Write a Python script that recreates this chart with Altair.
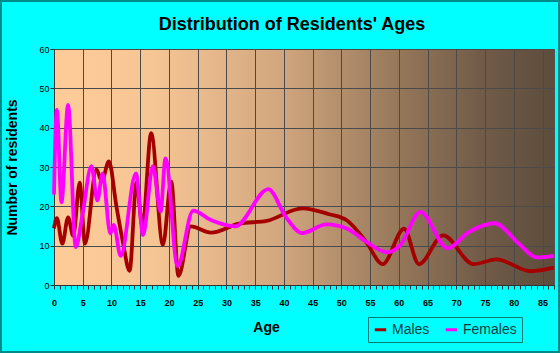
import altair as alt
import pandas as pd

# ---- data ----
male_ages = [0, 0.5, 1.45, 2.45, 3.35, 4.47, 5.4, 7.37, 8.3, 9.55, 10.86, 12.0, 13.15,
             14.35, 15.4, 16.9, 18.95, 20.4, 21.65, 23.8, 27.3, 32.2, 37.0, 43.2, 47.9,
             51.0, 54.3, 57.2, 60.9, 63.5, 67.7, 73.0, 77.0, 83.0, 87.0]
male_counts = [14.4, 17.0, 10.5, 17.2, 12.5, 26.0, 10.5, 29.4, 26.4, 31.4, 20.0, 10.8, 3.6,
               26.0, 14.8, 38.6, 10.2, 26.3, 2.3, 14.9, 13.3, 15.6, 16.3, 19.5, 18.0,
               16.4, 11.0, 5.3, 14.3, 5.3, 12.6, 5.3, 6.5, 3.5, 4.4]

female_ages = [0, 0.5, 1.3, 2.45, 3.78, 5.0, 6.5, 7.55, 8.45, 9.8, 10.4, 11.6, 14.25,
               15.5, 17.2, 18.55, 19.4, 21.5, 24.2, 27.3, 31.5, 37.3, 40.3, 43.2, 47.4,
               51.2, 54.3, 58.0, 60.3, 63.75, 68.5, 72.0, 76.7, 80.8, 84.0, 87.0]
female_counts = [23.0, 44.5, 21.0, 45.8, 9.6, 18.3, 30.2, 21.5, 28.3, 13.1, 15.3, 7.4, 28.4,
                 12.7, 30.2, 18.7, 32.2, 4.8, 18.9, 16.5, 14.9, 24.4, 17.4, 13.2, 15.4,
                 14.2, 11.0, 8.3, 10.2, 18.6, 9.3, 13.3, 15.7, 10.6, 7.0, 7.4]

series_names = ["Males", "Females"]
series_colors = ["#A50000", "#FF00FF"]
title_text = ["Distribution of Residents' Ages"]

df = pd.concat([
    pd.DataFrame({"age": male_ages, "count": male_counts, "sex": "Males"}),
    pd.DataFrame({"age": female_ages, "count": female_counts, "sex": "Females"}),
], ignore_index=True)

FONT = "Liberation Sans"
W, H = 500, 236

grad = ("{gradient: 'linear', x1: 0, y1: 0, x2: 1, y2: 0, stops: ["
        "{offset: 0, color: '#FDCC99'}, {offset: 0.2, color: '#F6C594'},"
        "{offset: 0.45, color: '#D2A77F'}, {offset: 0.7, color: '#937558'},"
        "{offset: 0.85, color: '#725C49'}, {offset: 1, color: '#5D4C3C'}]}")

lines = alt.Chart(df).mark_line(interpolate="monotone", strokeWidth=3.8).encode(
    x=alt.X("age:Q",
            scale=alt.Scale(domain=[0, 87], nice=False, zero=False),
            axis=alt.Axis(
                title="Age",
                values=list(range(0, 88)),
                labelExpr="datum.value % 5 === 0 ? datum.label : ''",
                gridOpacity={"condition": {"test": "datum.value % 5 === 0", "value": 1}, "value": 0},
                gridColor="#4A4A4A",
                tickColor="#333333", tickSize=4, domainColor="#333333",
                labelFont=FONT, labelFontSize=9, labelFontWeight="bold", labelColor="#000000",
                labelPadding=9, labelFlush=False, labelOverlap=False,
                titleFont=FONT, titleFontSize=14, titleFontWeight="bold", titleColor="#000000",
                titleX=212, titleY=46, titleBaseline="alphabetic", titleAlign="center")),
    y=alt.Y("count:Q",
            scale=alt.Scale(domain=[0, 60], nice=False),
            axis=alt.Axis(
                title="Number of residents",
                values=[0, 10, 20, 30, 40, 50, 60],
                gridColor="#4A4A4A",
                tickColor="#333333", tickSize=4, domainColor="#333333",
                labelFont=FONT, labelFontSize=9, labelColor="#000000", labelPadding=1,
                titleFont=FONT, titleFontSize=14, titleFontWeight="bold", titleColor="#000000",
                titleX=-42, titleY=H / 2, titleAngle=-90, titleAlign="center",
                titleBaseline="middle")),
    color=alt.Color("sex:N",
                    scale=alt.Scale(domain=series_names, range=series_colors),
                    legend=alt.Legend(
                        title=None, orient="none", legendX=314, legendY=268,
                        direction="horizontal", strokeColor="#0A7A7A", padding=5,
                        symbolType="stroke", symbolSize=130, symbolStrokeWidth=3,
                        labelFont=FONT, labelFontSize=14, labelColor="#0E3C3C",
                        labelOffset=4, columnPadding=9)),
    order=alt.Order("age:Q"),
)

title = alt.Chart(pd.DataFrame({"t": title_text})).mark_text(
    font=FONT, fontSize=18, fontWeight="bold", color="#000000",
    align="center", baseline="middle").encode(
    x=alt.value(238), y=alt.value(-24), text="t:N")

border = alt.Chart(pd.DataFrame({"t": title_text})).mark_rect(
    fillOpacity=0, stroke="#008B8B", strokeWidth=2).encode(
    x=alt.value(-53), x2=alt.value(505), y=alt.value(-48), y2=alt.value(303))

chart = alt.layer(lines, title, border).properties(
    width=W, height=H,
    autosize=alt.AutoSizeParams(type="none"),
    padding={"left": 54, "top": 49, "right": 6, "bottom": 68},
).configure(background="#00FFFF").configure_view(
    fill=alt.ExprRef(expr=grad), stroke="#555555", strokeWidth=1)

chart.save("out.html", embed_options={"renderer": "svg", "actions": False})
